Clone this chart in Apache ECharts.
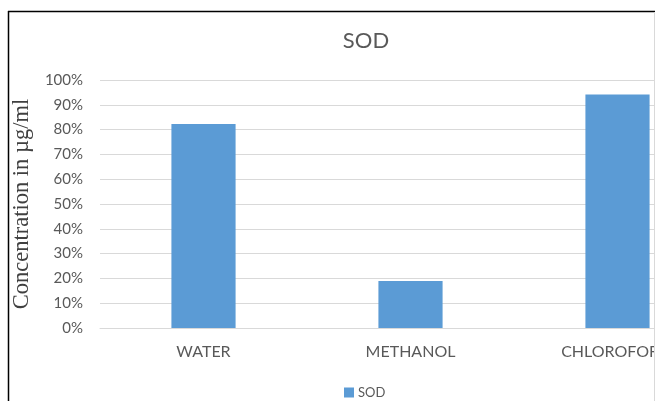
<!DOCTYPE html>
<html>
<head>
<meta charset="utf-8">
<script src="https://cdn.jsdelivr.net/npm/echarts@6/dist/echarts.min.js"></script>
<style>html,body{margin:0;padding:0;background:#fff;}#c{width:655px;height:401px;}</style>
</head>
<body>
<div id="c"></div>
<script>
const categories = ['WATER', 'METHANOL', 'CHLOROFORM'];
const sodValues = [0.823, 0.19, 0.942];
const seriesName = 'SOD';
const chartTitle = 'SOD';
const yAxisTitle = 'Concentration in µg/ml';

const chart = echarts.init(document.getElementById('c'));
chart.setOption({
  animation: false,
  title: {
    text: chartTitle, left: 361, top: 25, textAlign: 'center',
    textStyle: { fontFamily: 'Lato', fontSize: 22, fontWeight: 'normal', color: '#595959' }
  },
  legend: {
    data: [seriesName], left: 344, top: 386, padding: 0, itemWidth: 10, itemHeight: 10, itemGap: 4,
    icon: 'rect',
    textStyle: { fontFamily: 'Lato', fontSize: 13, color: '#595959', padding: [0, 0, 0, -1] }
  },
  grid: { left: 100, width: 621, top: 80, bottom: 73, outerBoundsMode: 'none', containLabel: false },
  xAxis: {
    type: 'category', data: categories,
    axisLine: { show: true, lineStyle: { color: '#D9D9D9' } },
    axisTick: { show: false },
    axisLabel: { margin: 16, fontFamily: 'Lato', fontSize: 16, color: '#595959' }
  },
  yAxis: {
    type: 'value', min: 0, max: 1, interval: 0.1,
    name: yAxisTitle, nameLocation: 'middle', nameGap: 66,
    nameTextStyle: { fontFamily: 'Liberation Serif', fontSize: 22.5, color: '#404040' },
    axisLine: { show: false }, axisTick: { show: false },
    axisLabel: { margin: 17, fontFamily: 'Lato', fontSize: 15, color: '#595959',
      formatter: v => Math.round(v * 100) + '%' },
    splitLine: { lineStyle: { color: '#D9D9D9' } }
  },
  series: [{
    name: seriesName, type: 'bar', data: sodValues, barWidth: '31%',
    itemStyle: { color: '#5B9BD5' }
  }],
  graphic: [
    { type: 'line', shape: { x1: 8, y1: 11.5, x2: 655, y2: 11.5 }, style: { stroke: '#000', lineWidth: 1.5 }, z: 100 },
    { type: 'line', shape: { x1: 8.5, y1: 11, x2: 8.5, y2: 401 }, style: { stroke: '#000', lineWidth: 1.5 }, z: 100 },
    { type: 'line', shape: { x1: 654.5, y1: 12, x2: 654.5, y2: 401 }, style: { stroke: '#D9D9D9', lineWidth: 1 }, z: 100 }
  ]
});
</script>
</body>
</html>
